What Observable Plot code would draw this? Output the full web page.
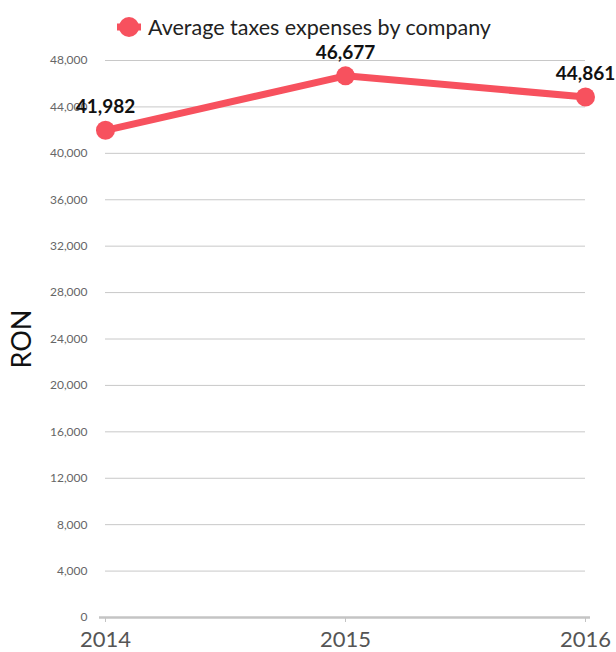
<!DOCTYPE html>
<html>
<head>
<meta charset="utf-8">
<script src="https://cdn.jsdelivr.net/npm/d3@7"></script>
<script src="https://cdn.jsdelivr.net/npm/@observablehq/plot@0.6"></script>
<style>
  body { margin: 0; background: #fff; font-family: Lato, "Open Sans", sans-serif; }
  #wrap { position: relative; width: 616px; height: 652px; }
  #legend { position: absolute; left: 116px; top: 14px; display: flex; align-items: center; font-size: 21.5px; color: #222; }
  #legend svg { margin-right: 6px; }
</style>
</head>
<body>
<div id="wrap">
  <div id="chart"></div>
  <div id="legend"></div>
</div>
<script>
const years = [2014, 2015, 2016];
const values = [41982, 46677, 44861];
const yTicks = [0, 4000, 8000, 12000, 16000, 20000, 24000, 28000, 32000, 36000, 40000, 44000, 48000];
const seriesName = "Average taxes expenses by company";
const color = "#f7515e";

const data = years.map((y, i) => ({year: y, value: values[i]}));
const fmt = d3.format(",");

const plot = Plot.plot({
  width: 616,
  height: 652,
  marginLeft: 105,
  marginRight: 31,
  marginTop: 60,
  marginBottom: 35,
  style: {fontFamily: "Lato, 'Open Sans', sans-serif", background: "#fff", overflow: "visible"},
  x: {type: "linear", domain: [2014, 2016], ticks: years, tickFormat: d => String(d)},
  y: {domain: [0, 48000], ticks: yTicks},
  marks: [
    Plot.gridY(yTicks, {stroke: "#c8c8c8", strokeOpacity: 1, strokeWidth: 1}),
    Plot.axisY(yTicks, {tickSize: 0, tickPadding: 18, tickFormat: fmt, fontSize: 12, fill: "#666", label: null}),
    Plot.ruleY([0], {stroke: "#c4c4c4", strokeWidth: 2.5, insetLeft: -6, insetRight: -5}),
    Plot.axisX(years, {tickSize: 5, tickPadding: 9, fontSize: 22, fill: "#555", stroke: "#c4c4c4", label: null, tickFormat: d => String(d)}),
    Plot.text(["RON"], {frameAnchor: "left", textAnchor: "middle", rotate: -90, dx: -83, fontSize: 27, fill: "#111"}),
    Plot.line(data, {x: "year", y: "value", stroke: color, strokeWidth: 7}),
    Plot.dot(data, {x: "year", y: "value", r: 9.5, fill: color}),
    Plot.text(data, {x: "year", y: "value", text: d => fmt(d.value), dy: -23, fontSize: 19, fontWeight: "bold", fill: "#111"})
  ]
});
document.getElementById("chart").appendChild(plot);

const legend = document.getElementById("legend");
legend.innerHTML = `<svg width="26" height="22"><line x1="1" y1="11" x2="25" y2="11" stroke="${color}" stroke-width="7"/><circle cx="13" cy="11" r="10" fill="${color}"/></svg><span>${seriesName}</span>`;
</script>
</body>
</html>
